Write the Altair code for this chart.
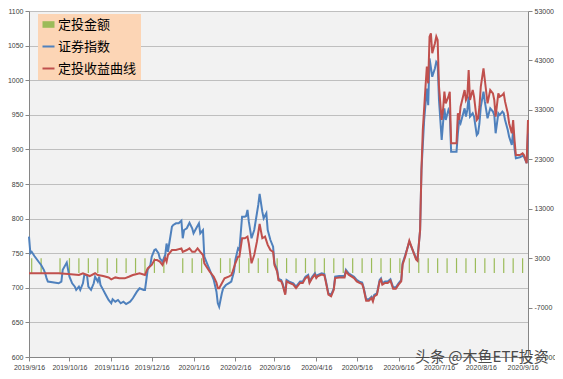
import altair as alt
import pandas as pd

# ---------------- data ----------------
blue_dates = [
    "2019-09-16", "2019-09-17", "2019-09-18", "2019-09-20", "2019-09-23", "2019-09-25", "2019-09-27",
    "2019-09-28", "2019-09-29", "2019-09-30", "2019-10-08", "2019-10-10", "2019-10-11", "2019-10-14",
    "2019-10-15", "2019-10-16", "2019-10-18", "2019-10-20", "2019-10-21", "2019-10-23", "2019-10-24",
    "2019-10-26", "2019-10-27", "2019-10-29", "2019-10-30", "2019-11-01", "2019-11-03", "2019-11-04",
    "2019-11-06", "2019-11-07", "2019-11-08", "2019-11-10", "2019-11-12", "2019-11-14", "2019-11-16",
    "2019-11-17", "2019-11-19", "2019-11-21", "2019-11-23", "2019-11-25", "2019-11-27", "2019-11-30",
    "2019-12-02", "2019-12-05", "2019-12-07", "2019-12-10", "2019-12-11", "2019-12-13", "2019-12-15",
    "2019-12-16", "2019-12-18", "2019-12-19", "2019-12-21", "2019-12-22", "2019-12-24", "2019-12-26",
    "2019-12-27", "2019-12-28", "2019-12-29", "2019-12-31", "2020-01-01", "2020-01-03", "2020-01-05",
    "2020-01-07", "2020-01-08", "2020-01-09", "2020-01-11", "2020-01-13", "2020-01-15", "2020-01-16",
    "2020-01-18", "2020-01-20", "2020-01-21", "2020-01-23", "2020-01-24", "2020-01-26", "2020-01-28",
    "2020-01-31", "2020-02-02", "2020-02-03", "2020-02-04", "2020-02-06", "2020-02-07", "2020-02-09",
    "2020-02-11", "2020-02-13", "2020-02-15", "2020-02-16", "2020-02-18", "2020-02-19", "2020-02-21",
    "2020-02-23", "2020-02-24", "2020-02-25", "2020-02-26", "2020-02-28", "2020-03-01", "2020-03-03",
    "2020-03-04", "2020-03-05", "2020-03-07", "2020-03-08", "2020-03-10", "2020-03-11", "2020-03-13",
    "2020-03-15", "2020-03-16", "2020-03-18", "2020-03-19", "2020-03-21", "2020-03-22", "2020-03-24",
    "2020-03-25", "2020-03-27", "2020-03-30", "2020-04-01", "2020-04-04", "2020-04-06", "2020-04-08",
    "2020-04-10", "2020-04-11", "2020-04-13", "2020-04-15", "2020-04-16", "2020-04-17", "2020-04-20",
    "2020-04-22", "2020-04-23", "2020-04-25", "2020-04-27", "2020-04-29", "2020-04-30", "2020-05-03",
    "2020-05-07", "2020-05-08", "2020-05-10", "2020-05-12", "2020-05-14", "2020-05-16", "2020-05-18",
    "2020-05-20", "2020-05-21", "2020-05-23", "2020-05-25", "2020-05-27", "2020-05-28", "2020-05-29",
    "2020-05-31", "2020-06-02", "2020-06-03", "2020-06-04", "2020-06-06", "2020-06-08", "2020-06-10",
    "2020-06-12", "2020-06-14", "2020-06-16", "2020-06-18", "2020-06-19", "2020-06-21", "2020-06-24",
    "2020-06-26", "2020-06-29", "2020-06-30", "2020-07-02", "2020-07-03", "2020-07-05", "2020-07-07",
    "2020-07-08", "2020-07-09", "2020-07-11", "2020-07-13", "2020-07-14", "2020-07-15", "2020-07-16",
    "2020-07-18", "2020-07-19", "2020-07-20", "2020-07-21", "2020-07-23", "2020-07-24", "2020-07-25",
    "2020-07-29", "2020-07-30", "2020-07-31", "2020-08-01", "2020-08-04", "2020-08-05", "2020-08-06",
    "2020-08-07", "2020-08-08", "2020-08-10", "2020-08-11", "2020-08-13", "2020-08-14", "2020-08-15",
    "2020-08-16", "2020-08-18", "2020-08-19", "2020-08-21", "2020-08-23", "2020-08-25", "2020-08-26",
    "2020-08-27", "2020-08-29", "2020-08-30", "2020-09-01", "2020-09-02", "2020-09-03", "2020-09-05",
    "2020-09-06", "2020-09-08", "2020-09-09", "2020-09-10", "2020-09-11", "2020-09-14", "2020-09-16",
    "2020-09-17", "2020-09-19", "2020-09-20",
]
blue_vals = [
    774, 750, 752, 746, 738, 733, 726,
    721, 714, 709, 706.5, 709, 726, 736.5,
    726, 716, 706.5, 701.6, 697, 701.6, 697,
    706.5, 718.5, 718.5, 701.6, 697, 706.5, 716,
    709, 716, 704, 697, 689.6, 682.4, 677.6,
    683.4, 680, 682.4, 677.6, 680, 676.6, 680,
    684.9, 694.4, 699.3, 697, 697, 726, 733,
    745, 754.6, 755.6, 750, 742.7, 737.8, 747.4,
    764, 752, 764, 788.3, 790.8, 793.2, 793.2,
    797, 771.6, 783.5, 786, 794, 786, 778.8,
    786, 793.2, 778.8, 783.5, 745, 735.4, 726,
    711.3, 694.4, 677.6, 672.7, 692, 699.3, 704,
    706.5, 709, 723.3, 740.2, 757, 754.6, 802.8,
    802.8, 803.8, 812.6, 795.6, 771.6, 783.5, 807.7,
    819.7, 835.6, 810, 800.4, 807.7, 783.5, 769,
    759.4, 735.4, 726, 713, 711.3, 706.5, 692,
    711.3, 709, 706.5, 701.6, 709, 709, 716,
    718.5, 709, 716, 721, 716, 718.5, 721,
    720, 711.3, 692, 689.6, 699.3, 716, 717,
    717, 726, 721, 718.5, 716, 711.3, 709,
    707.5, 701.6, 683.4, 683.4, 687.2, 682.4, 689.6,
    692, 711.3, 713.7, 706.5, 709, 709, 712.3,
    700.7, 700.7, 706.5, 711.3, 735.4, 747.4, 766.7,
    757, 742.7, 740.2, 783.5, 870, 942.5, 988,
    964, 1031.6, 1005, 1017.2, 1026.8, 1024.4, 971.4,
    913.6, 937.8, 959.4, 942.5, 957, 952.2, 896.7,
    896.7, 923.3, 942.5, 937.8, 959.4, 947.3, 957,
    976.2, 947.3, 952.2, 947.3, 920.8, 923.3, 937.8,
    961.7, 983.4, 969, 945, 959.4, 954.6, 949.7,
    923.3, 952.2, 949.7, 954.6, 952.2, 942.5, 928,
    918.4, 906.4, 928, 901.6, 887.1, 888.6, 890.5,
    889.5, 880, 923.3,
]

red_dates = [
    "2019-09-16", "2019-10-08", "2019-10-15", "2019-10-23", "2019-10-26", "2019-10-31", "2019-11-04",
    "2019-11-06", "2019-11-10", "2019-11-14", "2019-11-16", "2019-11-19", "2019-11-22", "2019-11-26",
    "2019-11-29", "2019-12-02", "2019-12-05", "2019-12-07", "2019-12-11", "2019-12-13", "2019-12-16",
    "2019-12-18", "2019-12-20", "2019-12-22", "2019-12-24", "2019-12-26", "2019-12-27", "2019-12-28",
    "2019-12-31", "2020-01-03", "2020-01-07", "2020-01-08", "2020-01-11", "2020-01-13", "2020-01-15",
    "2020-01-17", "2020-01-19", "2020-01-21", "2020-01-23", "2020-01-24", "2020-01-28", "2020-01-31",
    "2020-02-02", "2020-02-03", "2020-02-04", "2020-02-06", "2020-02-08", "2020-02-11", "2020-02-13",
    "2020-02-14", "2020-02-16", "2020-02-18", "2020-02-19", "2020-02-21", "2020-02-23", "2020-02-25",
    "2020-02-26", "2020-02-28", "2020-03-01", "2020-03-03", "2020-03-05", "2020-03-07", "2020-03-09",
    "2020-03-11", "2020-03-13", "2020-03-15", "2020-03-16", "2020-03-18", "2020-03-19", "2020-03-21",
    "2020-03-22", "2020-03-24", "2020-03-25", "2020-03-27", "2020-03-30", "2020-04-01", "2020-04-04",
    "2020-04-06", "2020-04-08", "2020-04-10", "2020-04-11", "2020-04-13", "2020-04-15", "2020-04-16",
    "2020-04-17", "2020-04-20", "2020-04-22", "2020-04-23", "2020-04-25", "2020-04-27", "2020-04-29",
    "2020-04-30", "2020-05-03", "2020-05-07", "2020-05-08", "2020-05-10", "2020-05-12", "2020-05-14",
    "2020-05-16", "2020-05-18", "2020-05-20", "2020-05-21", "2020-05-23", "2020-05-25", "2020-05-27",
    "2020-05-28", "2020-05-29", "2020-05-31", "2020-06-02", "2020-06-03", "2020-06-04", "2020-06-06",
    "2020-06-08", "2020-06-10", "2020-06-12", "2020-06-14", "2020-06-16", "2020-06-18", "2020-06-19",
    "2020-06-21", "2020-06-24", "2020-06-26", "2020-06-29", "2020-06-30", "2020-07-02", "2020-07-03",
    "2020-07-04", "2020-07-06", "2020-07-07", "2020-07-08", "2020-07-09", "2020-07-10", "2020-07-11",
    "2020-07-13", "2020-07-14", "2020-07-15", "2020-07-16", "2020-07-18", "2020-07-19", "2020-07-20",
    "2020-07-21", "2020-07-23", "2020-07-24", "2020-07-25", "2020-07-29", "2020-07-30", "2020-07-31",
    "2020-08-01", "2020-08-04", "2020-08-05", "2020-08-06", "2020-08-07", "2020-08-08", "2020-08-10",
    "2020-08-11", "2020-08-13", "2020-08-14", "2020-08-15", "2020-08-16", "2020-08-18", "2020-08-19",
    "2020-08-21", "2020-08-23", "2020-08-25", "2020-08-26", "2020-08-27", "2020-08-29", "2020-08-30",
    "2020-09-01", "2020-09-02", "2020-09-03", "2020-09-05", "2020-09-06", "2020-09-08", "2020-09-09",
    "2020-09-10", "2020-09-11", "2020-09-14", "2020-09-16", "2020-09-17", "2020-09-19", "2020-09-20",
]
red_vals = [
    721, 721, 720, 718.5, 721, 717, 721,
    718.5, 717, 715, 712.3, 715, 713.7, 713.7,
    716, 718.5, 720, 721, 718.5, 728, 733,
    740, 740, 737.8, 733, 742.7, 737.8, 747.4,
    754.6, 754.6, 757, 752, 754.6, 757, 752,
    752, 757, 752, 747.4, 735.4, 723.3, 716,
    707.5, 699.3, 699.3, 706.5, 713.7, 716, 718.5,
    723.3, 735.4, 745, 745, 771.6, 771.6, 774,
    764, 735.4, 747.4, 766.7, 792.2, 771.6, 774,
    762, 754.6, 752, 733, 723.3, 711, 709.3,
    704.5, 690, 709.3, 707, 704.5, 699.6, 707,
    707, 714, 716.5, 707, 714, 719, 714,
    716.5, 719, 718, 709.3, 690, 687.6, 697.3,
    714, 715, 715, 724, 719, 716.5, 714,
    709.3, 707, 705.5, 699.6, 681.4, 681.4, 685.2,
    680.4, 687.6, 690, 709.3, 711.7, 704.5, 707,
    707, 710.3, 698.7, 698.7, 704.5, 709.3, 733.4,
    745.4, 768, 757, 741, 739, 783.5, 870,
    928, 990.6, 1019.6, 995.5, 1063, 1067.8, 1038.9,
    1053.3, 1063, 1058, 990.6, 942.5, 957, 983.4,
    966.6, 976.2, 983.4, 908.8, 908.8, 952.2, 942.5,
    961.7, 985.8, 971.4, 976.2, 1014.7, 971.4, 985.8,
    976.2, 942.5, 945, 961.7, 990.6, 1017.2, 1000.3,
    966.6, 985.8, 981, 971.4, 947.3, 981, 976.2,
    978.6, 981, 969, 952.2, 937.8, 923.3, 942.5,
    913.6, 891.9, 891.9, 894.4, 891.9, 880, 942.5,
]

bar_dates = [
    "2019-09-18", "2019-09-25", "2019-10-09", "2019-10-16", "2019-10-23", "2019-10-30", "2019-11-06",
    "2019-11-13", "2019-11-20", "2019-11-27", "2019-12-04", "2019-12-11", "2019-12-18", "2019-12-25",
    "2020-01-08", "2020-01-15", "2020-01-22", "2020-02-05", "2020-02-12", "2020-02-19", "2020-02-26",
    "2020-03-04", "2020-03-11", "2020-03-18", "2020-03-25", "2020-04-01", "2020-04-08", "2020-04-15",
    "2020-04-22", "2020-04-29", "2020-05-06", "2020-05-13", "2020-05-20", "2020-05-27", "2020-06-03",
    "2020-06-10", "2020-06-17", "2020-06-24", "2020-07-01", "2020-07-08", "2020-07-15", "2020-07-22",
    "2020-07-29", "2020-08-05", "2020-08-12", "2020-08-19", "2020-08-26", "2020-09-02", "2020-09-09",
    "2020-09-16",
]
bar_amounts = [3000] * len(bar_dates)

x_tick_dates = [
    "2019-09-16", "2019-10-16", "2019-11-16", "2019-12-16", "2020-01-16", "2020-02-16", "2020-03-16",
    "2020-04-16", "2020-05-16", "2020-06-16", "2020-07-16", "2020-08-16", "2020-09-16",
]
left_ticks = [600, 650, 700, 750, 800, 850, 900, 950, 1000, 1050, 1100]
right_ticks = [-17000, -7000, 3000, 13000, 23000, 33000, 43000, 53000]

series_names = ["定投金额", "证券指数", "定投收益曲线"]
series_colors = ["#9BBB59", "#4F81BD", "#C0504D"]
watermark = "头条 @木鱼ETF投资"

# ---------------- helpers ----------------
def dt(s):
    y, m, d = (int(p) for p in s.split("-"))
    return alt.DateTime(year=y, month=m, date=d, utc=True)

lines_df = pd.DataFrame({
    "date": blue_dates + red_dates,
    "value": blue_vals + red_vals,
    "series": [series_names[1]] * len(blue_dates) + [series_names[2]] * len(red_dates),
})
bars_df = pd.DataFrame({"date": bar_dates, "base": [0] * len(bar_dates), "amount": bar_amounts})

AXIS_GRAY = "#868686"
LABEL_COLOR = "#404040"
FONT = "Liberation Sans"

x_enc = alt.X(
    "date:T",
    scale=alt.Scale(type="utc", domain=[dt("2019-09-16"), dt("2020-09-20")]),
    axis=alt.Axis(
        title=None, values=[dt(s) for s in x_tick_dates], format="%Y/%-m/%-d",
        labelFont=FONT, labelFontSize=7, labelColor=LABEL_COLOR, labelPadding=2,
        tickSize=4, tickColor=AXIS_GRAY, domainColor=AXIS_GRAY, grid=False,
        labelOverlap=False, labelFlush=False,
    ),
)

GREEN_TEST = "datum.value === '定投金额'"
legend = alt.Legend(
    title=None, orient="none", legendX=9, legendY=3,
    fillColor="#FCD5B5", padding=4, rowPadding=8,
    labelFont="Noto Sans CJK SC", labelFontSize=13, labelColor="#000000", labelOffset=3,
    symbolSize=144,
    symbolType=alt.ExprRef(expr=GREEN_TEST + " ? 'M-1,-0.55H1V0.55H-1Z' : 'stroke'"),
    symbolFillColor=alt.ExprRef(expr=GREEN_TEST + " ? '#9BBB59' : 'transparent'"),
    symbolStrokeWidth=alt.ExprRef(expr=GREEN_TEST + " ? 0 : 2"),
)

color_enc = alt.Color(
    "series:N",
    scale=alt.Scale(domain=series_names, range=series_colors),
    legend=legend,
)

left_y = alt.Y(
    "value:Q",
    scale=alt.Scale(domain=[600, 1100], nice=False, zero=False),
    axis=alt.Axis(
        title=None, orient="left", values=left_ticks, labelExpr="'' + datum.value",
        labelFont=FONT, labelFontSize=7, labelColor=LABEL_COLOR, labelPadding=2,
        tickSize=4, tickColor=AXIS_GRAY, domainColor=AXIS_GRAY,
        grid=True, gridColor="#BFBFBF", gridWidth=1,
    ),
)

base_lines = alt.Chart(lines_df)
blue_layer = base_lines.transform_filter(alt.datum.series == series_names[1]).mark_line(
    strokeWidth=2
).encode(x=x_enc, y=left_y, color=color_enc)
red_layer = base_lines.transform_filter(alt.datum.series == series_names[2]).mark_line(
    strokeWidth=2
).encode(x=x_enc, y=left_y, color=color_enc)
lines = alt.layer(blue_layer, red_layer)

bars = alt.Chart(bars_df).mark_rule(strokeWidth=1.2, color=series_colors[0]).encode(
    x=x_enc,
    y=alt.Y(
        "base:Q",
        scale=alt.Scale(domain=[-17000, 53000], nice=False, zero=False),
        axis=alt.Axis(
            title=None, orient="right", values=right_ticks, labelExpr="'' + datum.value",
            labelFont=FONT, labelFontSize=7, labelColor=LABEL_COLOR, labelPadding=2,
            tickSize=4, tickColor=AXIS_GRAY, domainColor=AXIS_GRAY, grid=False,
        ),
    ),
    y2="amount:Q",
)

mark_df = pd.DataFrame({"t": [watermark]})
wm = alt.Chart(mark_df).mark_text(
    align="left", baseline="middle", font="Noto Sans CJK SC", fontSize=15, color="#4a4a4a"
).encode(x=alt.value(386), y=alt.value(346), text="t:N")

chart = alt.layer(bars, lines, wm).resolve_scale(y="independent").properties(
    width=499, height=346,
    padding={"left": 21, "top": 3, "right": 27, "bottom": 14},
    autosize=alt.AutoSizeParams(type="none"),
).configure_view(fill="#F2F2F2", strokeWidth=0)

chart.save("out.html", embed_options={"renderer": "svg", "actions": False})
